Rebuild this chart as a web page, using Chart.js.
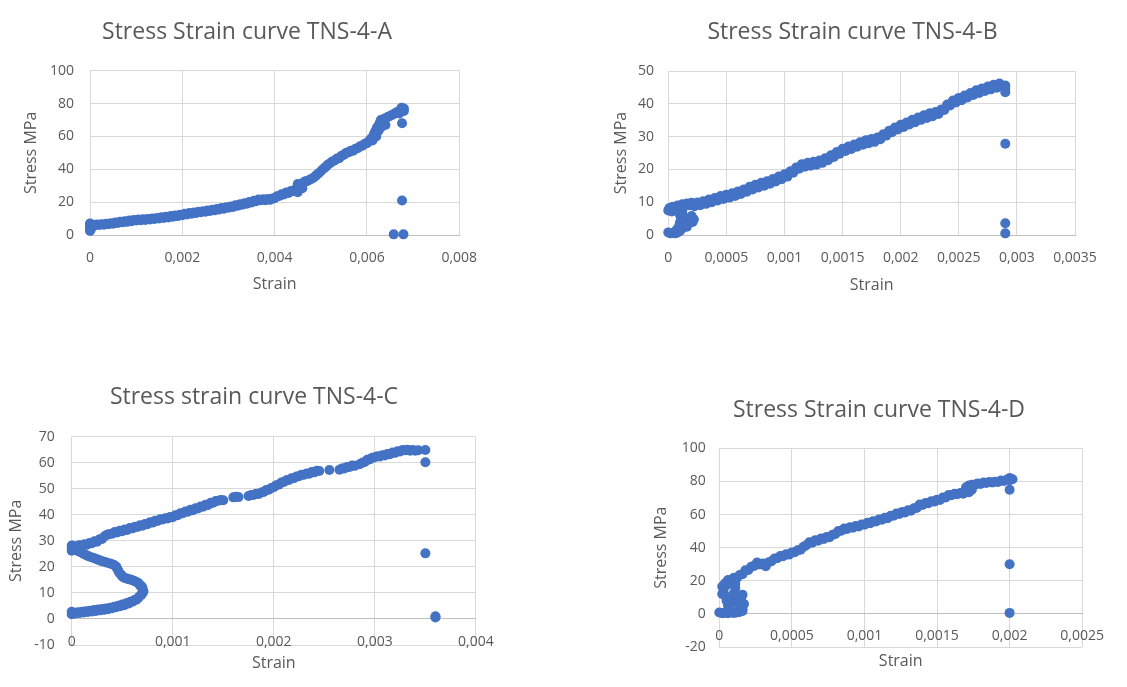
<!DOCTYPE html>
<html>
<head>
<meta charset="utf-8">
<title>Stress Strain curves TNS-4</title>
<script src="https://cdn.jsdelivr.net/npm/chart.js@4/dist/chart.umd.min.js"></script>
<style>
  body { margin: 0; background: #fff; width: 1127px; height: 687px; position: relative; overflow: hidden; }
  canvas { position: absolute; }
</style>
</head>
<body>
<canvas id="chartA" width="494" height="300" style="left:0;top:0"></canvas>
<canvas id="chartB" width="525" height="300" style="left:590px;top:0"></canvas>
<canvas id="chartC" width="508" height="317" style="left:0;top:370px"></canvas>
<canvas id="chartD" width="478" height="307" style="left:640px;top:380px"></canvas>
<script>
// measured points, [strain, stress MPa]
var curveA = [
  [0, 2.5], [0, 4], [0, 5.5], [0, 7], [0.00002, 3.5], [0.00002, 6.5],
  [0.00005, 6.2], [0.0001, 5.8], [0.00015, 6.4], [0.0002, 6.1], [0.00025, 6.6], [0.0003, 6.3],
  [0.00035, 6.9], [0.0004, 6.6], [0.00045, 7.2], [0.0005, 6.9], [0.00055, 7.6], [0.0006, 7.3],
  [0.00065, 8], [0.0007, 7.7], [0.00075, 8.4], [0.0008, 8], [0.00085, 8.8], [0.0009, 8.4],
  [0.00095, 9.2], [0.001, 8.8], [0.00105, 9.4], [0.0011, 9], [0.00115, 9.6], [0.0012, 9.2],
  [0.00125, 9.8], [0.0013, 9.4], [0.00135, 10.1], [0.0014, 9.7], [0.00145, 10.4], [0.0015, 10.1],
  [0.00155, 10.8], [0.0016, 10.4], [0.00165, 11.1], [0.0017, 10.7], [0.00175, 11.5], [0.0018, 11.1],
  [0.00185, 11.9], [0.0019, 11.5], [0.00195, 12.4], [0.002, 12], [0.00205, 12.9], [0.0021, 12.5],
  [0.00215, 13.4], [0.0022, 13], [0.00225, 13.7], [0.0023, 13.4], [0.00235, 14.1], [0.0024, 13.8],
  [0.00245, 14.5], [0.0025, 14.1], [0.00255, 14.9], [0.0026, 14.6], [0.00265, 15.4], [0.0027, 15],
  [0.00275, 15.9], [0.0028, 15.5], [0.00285, 16.4], [0.0029, 16], [0.00295, 16.9], [0.003, 16.6],
  [0.00305, 17.4], [0.0031, 17.1], [0.00315, 18.1], [0.0032, 17.8], [0.00325, 18.7], [0.0033, 18.4],
  [0.00335, 19.4], [0.0034, 19], [0.00345, 20.1], [0.0035, 19.8], [0.00355, 20.9], [0.0036, 20.6],
  [0.00365, 21.6], [0.0037, 21.1], [0.00375, 21.7], [0.0038, 21.2], [0.00385, 21.9], [0.0039, 21.4],
  [0.00395, 22.2], [0.004, 22.4], [0.00405, 23.6], [0.0041, 23.7], [0.00415, 24.8], [0.0042, 24.7],
  [0.00425, 25.8], [0.0043, 25.6], [0.00435, 26.8], [0.0044, 26.6], [0.00445, 27.8], [0.0045, 27.5],
  [0.0045, 31], [0.0045, 26], [0.00455, 30.5], [0.00455, 29], [0.0046, 31.5], [0.0046, 28.5],
  [0.00465, 32.5], [0.0047, 32.8], [0.00475, 33.5], [0.0048, 34.3], [0.00485, 35], [0.0049, 36.3],
  [0.00495, 37.5], [0.005, 38.8], [0.00505, 40.2], [0.0051, 41.3], [0.00515, 42.8], [0.0052, 43.7],
  [0.00525, 44.8], [0.0053, 45.3], [0.00535, 46.5], [0.0054, 46.8], [0.00545, 48.2], [0.0055, 48.8],
  [0.00555, 50], [0.0056, 50.3], [0.00565, 51.3], [0.0057, 51.3], [0.00575, 52.5], [0.0058, 52.8],
  [0.00585, 54], [0.0059, 54.3], [0.00595, 55.5], [0.006, 55.8], [0.00605, 57.5], [0.0061, 59],
  [0.0061, 58], [0.00612, 57.5], [0.00615, 61.5], [0.00618, 63], [0.0062, 64], [0.0062, 60],
  [0.00622, 65.5], [0.00625, 66.5], [0.00625, 63.5], [0.00628, 68.5], [0.0063, 70], [0.0063, 65.5],
  [0.00635, 70.5], [0.0064, 71], [0.0064, 67], [0.00645, 71.8], [0.0065, 72.5], [0.00655, 73.2],
  [0.0066, 74], [0.00665, 74.8], [0.0067, 75.5], [0.0067, 74], [0.00675, 76.5], [0.00675, 77.5],
  [0.0068, 77], [0.0068, 75.5],
  [0.00676, 68], [0.00676, 21], [0.00658, 0.4], [0.00679, 0.4]
];
var curveB = [
  [0, 0.8], [0.00002, 0.5], [0.00004, 0.6], [0.00006, 0.5], [0.00008, 0.8], [0.0001, 1.2], [0.00009, 2.5],
  [0.0001, 3.8], [0.00011, 5], [0.0001, 6.2], [0.00012, 7], [0.00013, 5.5], [0.00014, 4.2], [0.00015, 3],
  [0.00016, 2.5], [0.00017, 3.5], [0.00019, 4.5], [0.0002, 5.2], [0.00021, 4], [0.00022, 4.8], [0.0002, 5.8],
  [0.00012, 2], [0.00007, 1.5],
  [0, 7.5], [0.00001, 8.2], [0.00003, 7.2], [0.00004, 8.6], [0.00006, 7.8], [0.00008, 9], [0.0001, 8.4],
  [0.00012, 9.4], [0.00014, 8.8], [0.00016, 9.6], [0.00018, 9.1], [0.0002, 9.8], [0.000225, 8.8],
  [0.00025, 9.9], [0.000275, 9.1], [0.0003, 10.3], [0.000325, 9.5], [0.00035, 10.8], [0.000375, 10],
  [0.0004, 11.3], [0.000425, 10.5], [0.00045, 11.9], [0.000475, 11], [0.0005, 12.3], [0.000525, 11.4],
  [0.00055, 12.7], [0.000575, 11.9], [0.0006, 13.3], [0.000625, 12.5], [0.00065, 13.9], [0.000675, 13.2],
  [0.0007, 14.7], [0.000725, 13.9], [0.00075, 15.3], [0.000775, 14.5], [0.0008, 15.9], [0.000825, 15],
  [0.00085, 16.4], [0.000875, 15.6], [0.0009, 17.1], [0.000925, 16.3], [0.00095, 17.8], [0.000975, 17],
  [0.001, 18.5], [0.001025, 17.8], [0.00105, 19.4], [0.001075, 19], [0.0011, 20.6], [0.001125, 20.2],
  [0.00115, 21.6], [0.001175, 20.8], [0.0012, 22], [0.001225, 21.1], [0.00125, 22.3], [0.001275, 21.4],
  [0.0013, 22.7], [0.001325, 22], [0.00135, 23.4], [0.001375, 22.8], [0.0014, 24.3], [0.001425, 23.8],
  [0.00145, 25.3], [0.001475, 24.8], [0.0015, 26.3], [0.001525, 25.6], [0.00155, 27], [0.001575, 26.2],
  [0.0016, 27.6], [0.001625, 26.9], [0.00165, 28.3], [0.001675, 27.5], [0.0017, 28.9], [0.001725, 28],
  [0.00175, 29.3], [0.001775, 28.4], [0.0018, 29.7], [0.001825, 29.2], [0.00185, 30.7], [0.001875, 30.3],
  [0.0019, 31.8], [0.001925, 31.3], [0.00195, 32.8], [0.001975, 32.2], [0.002, 33.6], [0.002025, 32.9],
  [0.00205, 34.3], [0.002075, 33.7], [0.0021, 35.1], [0.002125, 34.4], [0.00215, 35.8], [0.002175, 35.1],
  [0.0022, 36.5], [0.002225, 35.7], [0.00225, 37.1], [0.002275, 36.2], [0.0023, 37.5], [0.002325, 36.9],
  [0.00235, 38.3], [0.002375, 38.1], [0.0024, 39.8], [0.002425, 39.5], [0.00245, 41], [0.002475, 40.4],
  [0.0025, 41.8], [0.002525, 41.1], [0.00255, 42.5], [0.002575, 41.9], [0.0026, 43.3], [0.002625, 42.7],
  [0.00265, 44.1], [0.002675, 43.3], [0.0027, 44.7], [0.002725, 43.9], [0.00275, 45.3], [0.002775, 44.4],
  [0.0028, 45.8], [0.002825, 44.9], [0.00285, 46.2], [0.002875, 45.3], [0.0029, 45.6], [0.0029, 44.8],
  [0.0029, 43.5], [0.0029, 27.8], [0.0029, 3.6], [0.0029, 0.5]
];
var curveC = [
  // lower branch out to the turn and back up
  [0, 1.8], [0, 2.8], [0.00002, 2.4], [0.00004, 2.1], [0.00006, 2.6], [0.00008, 2.3], [0.0001, 2.8],
  [0.00012, 2.5], [0.00014, 3], [0.00016, 2.7], [0.00018, 3.2], [0.0002, 2.9], [0.00022, 3.4],
  [0.00024, 3.1], [0.00026, 3.6], [0.00028, 3.3], [0.0003, 3.8], [0.00032, 3.5], [0.00034, 4],
  [0.00036, 3.7], [0.00038, 4.3], [0.0004, 4.1], [0.00042, 4.7], [0.00044, 4.5], [0.00046, 5.1],
  [0.00048, 4.9], [0.0005, 5.6], [0.00052, 5.3], [0.00054, 6], [0.00056, 5.9], [0.00058, 6.6],
  [0.0006, 6.6], [0.00062, 7.3], [0.00064, 7.4], [0.00066, 8.2], [0.00067, 8.6], [0.00069, 9.3],
  [0.0007, 9.9], [0.00071, 10.6], [0.0007, 11.3], [0.0007, 12], [0.00069, 12.6], [0.00067, 13.2],
  [0.00066, 13.8], [0.00064, 14.2], [0.00062, 14.6], [0.0006, 14.9], [0.00058, 15.2], [0.00056, 15.3],
  [0.00054, 15.6], [0.00052, 15.8], [0.0005, 16.3], [0.00049, 17], [0.00047, 17.8], [0.00046, 18.6],
  [0.00045, 19.4], [0.00044, 20.1], [0.00042, 20.7], [0.0004, 21], [0.00038, 21.3], [0.00035, 21.6],
  [0.00033, 21.9], [0.0003, 22.2], [0.00028, 22.5], [0.00026, 22.8], [0.00023, 23.2], [0.00021, 23.5],
  [0.00018, 23.9], [0.00016, 24.2], [0.00014, 24.6], [0.00012, 25], [0.0001, 25.4], [0.00008, 25.8],
  [0.00006, 26.1], [0.00004, 26.5], [0.00002, 26.8], [0, 26.2], [0, 27.3], [0, 28.2],
  // upper branch
  [0.000025, 27.9], [0.00005, 27.6], [0.000075, 28.3], [0.0001, 28], [0.000125, 28.7], [0.00015, 28.5],
  [0.000175, 29.2], [0.0002, 29.1], [0.000225, 29.8], [0.00025, 29.7], [0.000275, 30.6], [0.0003, 30.7],
  [0.000325, 31.8], [0.00035, 32.3], [0.000375, 32.6], [0.0004, 32.7], [0.000425, 33.4], [0.00045, 33.2],
  [0.000475, 33.9], [0.0005, 33.7], [0.000525, 34.4], [0.00055, 34.2], [0.000575, 34.9], [0.0006, 34.8],
  [0.000625, 35.4], [0.00065, 35.3], [0.000675, 36], [0.0007, 35.8], [0.000725, 36.5], [0.00075, 36.4],
  [0.000775, 37.1], [0.0008, 37], [0.000825, 37.7], [0.00085, 37.6], [0.000875, 38.3], [0.0009, 38.2],
  [0.000925, 38.7], [0.00095, 38.6], [0.000975, 39.2], [0.001, 39.1], [0.001025, 39.8], [0.00105, 39.8],
  [0.001075, 40.6], [0.0011, 40.6], [0.001125, 41.3], [0.00115, 41.2], [0.001175, 41.9], [0.0012, 41.8],
  [0.001225, 42.5], [0.00125, 42.4], [0.001275, 43.2], [0.0013, 43.1], [0.001325, 43.9], [0.00135, 43.8],
  [0.001375, 44.6], [0.0014, 44.6], [0.001425, 45.3], [0.00145, 45.4], [0.001475, 45.7], [0.0015, 45.6],
  [0.0016, 46.7], [0.001625, 46.9], [0.00165, 46.8],
  [0.00175, 47.2], [0.001775, 47.6], [0.0018, 47.6], [0.001825, 48.1], [0.00185, 48], [0.001875, 48.6],
  [0.0019, 48.8], [0.001925, 49.5], [0.00195, 49.6], [0.001975, 50.3], [0.002, 50.6], [0.002025, 51.4],
  [0.00205, 51.6], [0.002075, 52.4], [0.0021, 52.6], [0.002125, 53.3], [0.00215, 53.4], [0.002175, 54],
  [0.0022, 54.1], [0.002225, 54.7], [0.00225, 54.8], [0.002275, 55.4], [0.0023, 55.4], [0.002325, 55.9],
  [0.00235, 55.8], [0.002375, 56.4], [0.0024, 56.3], [0.002425, 56.9], [0.00245, 56.8],
  [0.00255, 57.2],
  [0.00265, 57.3], [0.002675, 57.8], [0.0027, 57.8], [0.002725, 58.4], [0.00275, 58.4], [0.002775, 58.9],
  [0.0028, 58.8], [0.00285, 59.4], [0.002875, 60], [0.0029, 60.3], [0.002925, 61.1], [0.00295, 61.3],
  [0.002975, 61.9], [0.003, 62.1], [0.003025, 62.5], [0.00305, 62.4], [0.003075, 62.9], [0.0031, 62.8],
  [0.003125, 63.4], [0.00315, 63.3], [0.003175, 63.9], [0.0032, 63.8], [0.003225, 64.4], [0.00325, 64.3],
  [0.003275, 64.9], [0.0033, 64.8], [0.003325, 65], [0.00335, 64.6], [0.003375, 64.9], [0.0034, 64.6],
  [0.00343, 64.8], [0.0035, 64.9],
  [0.0035, 60.2], [0.0035, 25.2], [0.0036, 1], [0.0036, 0.6]
];
var curveD = [
  [0, 0.8], [0.00002, 0.4], [0.00004, 0.7], [0.00006, 0.4], [0.00008, 0.8], [0.0001, 0.5], [0.00012, 0.9],
  [0.00014, 1.2], [0.00016, 1.8], [0.00002, 12], [0.00003, 14.5], [0.00002, 16.5], [0.00004, 11],
  [0.00005, 8], [0.00006, 5], [0.00007, 3], [0.00008, 6.5], [0.00009, 9.5], [0.0001, 12.5], [0.00011, 15.5],
  [0.00012, 11], [0.00013, 7.5], [0.00014, 4.5], [0.00015, 9], [0.00016, 11.5], [0.00017, 6], [0.00016, 3],
  [0.00008, 2], [0.00011, 18], [0.00005, 17.5], [0.00008, 20],
  [0.00004, 18.5], [0.00006, 20.5], [0.00008, 19.8], [0.0001, 21.8], [0.00012, 21.5], [0.00014, 23.5],
  [0.00016, 24], [0.00018, 26.3], [0.0002, 26.5], [0.00022, 28.5], [0.00024, 29], [0.00026, 31],
  [0.00028, 29.8], [0.0003, 30.5], [0.00032, 28.8], [0.00034, 31.2], [0.00036, 31.8], [0.00038, 33.5],
  [0.0004, 33.6], [0.00042, 35], [0.00044, 34.8], [0.00046, 36], [0.00048, 35.8], [0.0005, 37],
  [0.00052, 37.2], [0.00054, 38.4], [0.00056, 38.8], [0.00058, 40.5], [0.0006, 41.5], [0.00062, 43.2],
  [0.00064, 43], [0.00066, 44.5], [0.00068, 44.2], [0.0007, 45.5], [0.00072, 45.2], [0.00074, 46.5],
  [0.00076, 46.3], [0.00078, 47.8], [0.0008, 48.3], [0.00082, 50], [0.00084, 50.2], [0.00086, 51.5],
  [0.00088, 51.3], [0.0009, 52.3], [0.00092, 52], [0.00094, 53], [0.00096, 52.8], [0.00098, 54],
  [0.001, 53.8], [0.00102, 55], [0.00104, 54.8], [0.00106, 56], [0.00108, 55.8], [0.0011, 57],
  [0.00112, 56.8], [0.00114, 58], [0.00116, 57.8], [0.00118, 59.3], [0.0012, 59.3], [0.00122, 60.6],
  [0.00124, 60.3], [0.00126, 61.6], [0.00128, 61.3], [0.0013, 62.6], [0.00132, 62.3], [0.00134, 63.8],
  [0.00136, 64], [0.00138, 66], [0.0014, 65.8], [0.00142, 67], [0.00144, 66.8], [0.00146, 68],
  [0.00148, 67.8], [0.0015, 69], [0.00152, 68.8], [0.00154, 70.3], [0.00156, 70.3], [0.00158, 71.8],
  [0.0016, 71.6], [0.00162, 72.6], [0.00164, 72.2], [0.00166, 73], [0.00168, 72.6], [0.0017, 74],
  [0.0017, 76.5], [0.00172, 77.5], [0.00172, 73.5], [0.00174, 78], [0.00174, 75], [0.00176, 78],
  [0.00178, 78.8], [0.0018, 78.5], [0.00182, 79.3], [0.00184, 79], [0.00186, 79.6], [0.00188, 79.3],
  [0.0019, 79.8], [0.00192, 79.6], [0.00194, 80.5], [0.00196, 80.2], [0.00198, 81], [0.002, 80.8],
  [0.002, 82], [0.00202, 81.3],
  [0.002, 75], [0.002, 30], [0.002, 0.6]
];

var xTicksA = [0, 0.002, 0.004, 0.006, 0.008];
var yTicksA = [0, 20, 40, 60, 80, 100];
var xTicksB = [0, 0.0005, 0.001, 0.0015, 0.002, 0.0025, 0.003, 0.0035];
var yTicksB = [0, 10, 20, 30, 40, 50];
var xTicksC = [0, 0.001, 0.002, 0.003, 0.004];
var yTicksC = [-10, 0, 10, 20, 30, 40, 50, 60, 70];
var xTicksD = [0, 0.0005, 0.001, 0.0015, 0.002, 0.0025];
var yTicksD = [-20, 0, 20, 40, 60, 80, 100];

var GREY = '#595959';
var FONT = 'Open Sans';

// decimal comma, as in the original sheets
function fmt(v) {
  return String(v).replace('.', ',');
}

function scatterChart(id, o) {
  return new Chart(document.getElementById(id), {
    type: 'scatter',
    data: {
      datasets: [{
        data: o.points.map(function(p) { return {x: p[0], y: p[1]}; }),
        backgroundColor: '#4472C4',
        borderColor: '#4472C4',
        borderWidth: 0,
        pointRadius: 5,
        clip: false
      }]
    },
    options: {
      responsive: false,
      animation: false,
      // left padding keeps the chart title centred like the sheet's
      layout: { padding: { left: o.padLeft, top: 0, right: o.padRight, bottom: o.padBottom } },
      plugins: {
        legend: { display: false },
        tooltip: { enabled: false },
        title: {
          display: true,
          text: o.title,
          color: GREY,
          font: { family: FONT, size: 23, weight: 'normal' },
          padding: { top: o.titleTop, bottom: o.titleBottom }
        }
      },
      scales: {
        x: {
          type: 'linear',
          position: { y: 0 },
          min: o.xTicks[0],
          max: o.xTicks[o.xTicks.length - 1],
          afterBuildTicks: function(s) { s.ticks = o.xTicks.map(function(v) { return {value: v}; }); },
          afterFit: function(s) { s.height = o.xHeight; },
          ticks: {
            callback: fmt, color: GREY, padding: o.xTickPad, maxRotation: 0, autoSkip: false,
            font: { family: FONT, size: 14 }
          },
          grid: { color: '#d9d9d9', drawTicks: false },
          border: { color: '#bfbfbf' },
          title: {
            display: true, text: 'Strain', color: GREY,
            font: { family: FONT, size: 16 }, padding: { top: 0, bottom: 0 }
          }
        },
        y: {
          type: 'linear',
          position: 'left',
          min: o.yTicks[0],
          max: o.yTicks[o.yTicks.length - 1],
          afterBuildTicks: function(s) { s.ticks = o.yTicks.map(function(v) { return {value: v}; }); },
          afterFit: function(s) { s.width = o.yWidth; },
          ticks: {
            callback: fmt, color: GREY, padding: o.yTickPad,
            font: { family: FONT, size: 14 }
          },
          grid: { color: '#d9d9d9', drawTicks: false },
          border: { display: false },
          title: {
            display: true, text: 'Stress MPa', color: GREY,
            font: { family: FONT, size: 16 }, padding: { top: o.yTitlePad, bottom: 0 }
          }
        }
      }
    }
  });
}

scatterChart('chartA', {
  title: 'Stress Strain curve TNS-4-A', points: curveA, xTicks: xTicksA, yTicks: yTicksA,
  padLeft: 34.7, padRight: 34.7, padBottom: 65, titleTop: 18.7, titleBottom: 24.4,
  yWidth: 55.3, yTickPad: 16, yTitlePad: -12.6, xTickPad: 14.6, xHeight: 58.6
});
scatterChart('chartB', {
  title: 'Stress Strain curve TNS-4-B', points: curveB, xTicks: xTicksB, yTicks: yTicksB,
  padLeft: 40, padRight: 40, padBottom: 65, titleTop: 18.7, titleBottom: 24.7,
  yWidth: 38.3, yTickPad: 14.3, yTitlePad: -17.9, xTickPad: 14.9, xHeight: 59.6
});
scatterChart('chartC', {
  title: 'Stress strain curve TNS-4-C', points: curveC, xTicks: xTicksC, yTicks: yTicksC,
  padLeft: 22, padRight: 22, padBottom: 42, titleTop: 13.7, titleBottom: 25.4,
  yWidth: 49.7, yTickPad: 17, yTitlePad: -14.9, xTickPad: 14.3, xHeight: 53.8
});
scatterChart('chartD', {
  title: 'Stress Strain curve TNS-4-D', points: curveD, xTicks: xTicksD, yTicks: yTicksD,
  padLeft: 28.7, padRight: 28.7, padBottom: 40, titleTop: 17, titleBottom: 23.7,
  yWidth: 50.6, yTickPad: 13.5, yTitlePad: -16.6, xTickPad: 14, xHeight: 57.6
});
</script>
</body>
</html>
